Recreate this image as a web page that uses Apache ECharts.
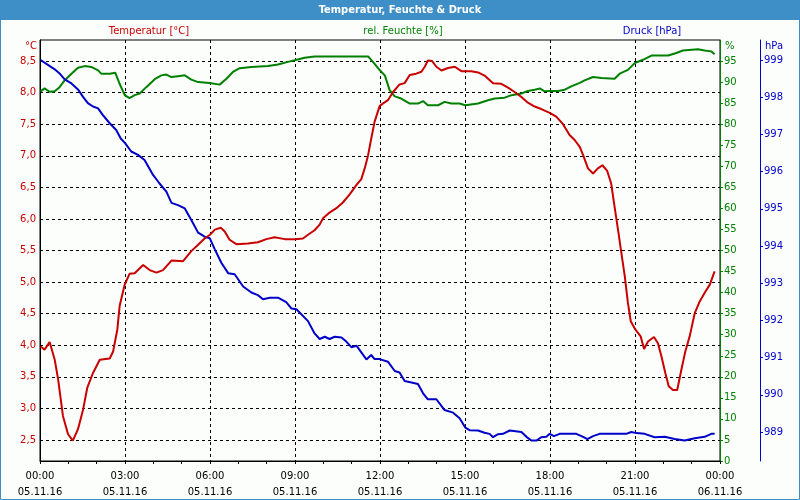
<!DOCTYPE html>
<html>
<head>
<meta charset="utf-8">
<script src="https://cdn.jsdelivr.net/npm/echarts@6/dist/echarts.min.js"></script>
<style>html,body{margin:0;padding:0;background:#fcfefc;}#c{width:800px;height:500px;}</style>
</head>
<body>
<div id="c"></div>
<script>
// ---- data (time in hours since 05.11.16 00:00) ----
const tempTimes = [0.02,0.16,0.34,0.52,0.64,0.81,0.99,1.16,1.34,1.52,1.67,1.87,2.11,2.46,2.58,2.73,2.81,2.99,3.16,3.34,3.64,3.87,4.11,4.34,4.64,5.05,5.34,5.58,5.81,6.0,6.17,6.38,6.52,6.69,6.93,7.34,7.69,7.99,8.28,8.64,8.99,9.28,9.46,9.69,9.87,9.99,10.22,10.46,10.69,10.93,11.17,11.34,11.46,11.58,11.69,11.81,11.99,12.11,12.28,12.46,12.69,12.87,13.05,13.28,13.46,13.58,13.69,13.84,13.99,14.17,14.40,14.64,14.87,15.22,15.46,15.69,15.99,16.28,16.52,16.75,16.99,17.22,17.46,17.69,17.99,18.22,18.46,18.69,18.87,19.05,19.17,19.34,19.52,19.69,19.85,20.02,20.16,20.28,20.40,20.52,20.64,20.75,20.85,21.01,21.20,21.32,21.46,21.67,21.81,21.93,22.07,22.19,22.34,22.49,22.64,22.78,22.93,23.11,23.28,23.46,23.64,23.81];
const tempValues = [3.98,3.93,4.05,3.77,3.46,2.88,2.59,2.49,2.67,2.98,3.33,3.56,3.77,3.79,3.90,4.25,4.62,4.96,5.13,5.14,5.27,5.19,5.15,5.19,5.34,5.33,5.49,5.59,5.69,5.75,5.83,5.86,5.80,5.67,5.60,5.61,5.63,5.68,5.71,5.68,5.68,5.69,5.75,5.82,5.91,6.01,6.10,6.17,6.26,6.39,6.54,6.63,6.80,7.01,7.27,7.54,7.79,7.83,7.88,8.01,8.13,8.15,8.28,8.30,8.33,8.41,8.51,8.50,8.41,8.35,8.39,8.41,8.34,8.34,8.32,8.27,8.15,8.14,8.08,8.01,7.93,7.84,7.78,7.74,7.68,7.62,7.50,7.33,7.25,7.14,7.01,6.80,6.72,6.80,6.85,6.76,6.56,6.19,5.83,5.46,5.09,4.67,4.38,4.25,4.14,3.94,4.06,4.13,4.03,3.83,3.56,3.35,3.29,3.29,3.62,3.91,4.14,4.51,4.69,4.83,4.96,5.17];

const humTimes = [0.02,0.16,0.34,0.52,0.69,0.87,1.11,1.34,1.58,1.81,2.05,2.16,2.46,2.66,2.81,2.99,3.16,3.34,3.52,3.75,4.05,4.28,4.46,4.64,4.87,5.11,5.34,5.58,5.99,6.34,6.58,6.81,7.05,7.46,8.05,8.40,8.75,8.99,9.34,9.69,10.64,11.58,11.75,11.97,12.17,12.34,12.52,12.75,13.05,13.34,13.52,13.69,14.05,14.28,14.52,14.81,15.01,15.46,15.81,16.05,16.40,16.64,16.99,17.22,17.46,17.64,17.81,17.99,18.28,18.52,18.75,19.05,19.22,19.52,19.81,20.28,20.46,20.75,20.99,21.28,21.58,22.17,22.46,22.69,23.22,23.46,23.69,23.81];
const humValues = [87.8,88.5,87.7,87.8,88.8,90.4,92.0,93.4,93.8,93.6,92.8,92.0,92.0,92.2,89.6,86.9,86.2,86.9,87.3,88.8,90.7,91.6,91.8,91.2,91.4,91.6,90.6,90.0,89.8,89.4,90.8,92.4,93.3,93.6,93.8,94.2,94.8,95.2,95.8,96.1,96.1,96.1,94.8,93.0,91.6,88.1,86.6,86.1,84.9,84.9,85.5,84.5,84.5,85.3,84.9,84.9,84.5,84.9,85.7,86.1,86.3,86.9,87.3,87.9,88.2,88.5,87.8,87.9,87.9,88.2,89.0,89.8,90.4,91.2,91.0,90.8,92.0,92.9,94.5,95.3,96.3,96.3,96.9,97.5,97.8,97.5,97.3,96.6];

const pressTimes = [0.02,0.28,0.52,0.69,0.87,1.11,1.34,1.52,1.69,1.87,2.05,2.22,2.46,2.69,2.85,3.01,3.22,3.46,3.69,3.99,4.22,4.46,4.64,4.87,5.11,5.34,5.58,5.81,5.99,6.17,6.40,6.64,6.87,7.17,7.46,7.69,7.87,8.11,8.40,8.69,8.87,9.05,9.46,9.69,9.87,10.05,10.22,10.40,10.64,10.81,10.99,11.17,11.34,11.52,11.69,11.81,11.99,12.28,12.52,12.69,12.87,13.11,13.34,13.52,13.69,13.99,14.28,14.58,14.81,15.01,15.16,15.46,15.69,15.87,15.99,16.17,16.34,16.58,16.99,17.17,17.34,17.52,17.69,17.87,17.99,18.14,18.34,18.93,19.17,19.32,19.52,19.75,20.69,20.87,21.05,21.34,21.69,22.05,22.40,22.75,23.11,23.46,23.69,23.81];
const pressValues = [999.0,998.87,998.75,998.64,998.48,998.37,998.21,998.01,997.84,997.75,997.70,997.52,997.30,997.12,996.89,996.76,996.54,996.45,996.31,995.91,995.68,995.46,995.16,995.10,995.01,994.70,994.36,994.25,994.21,993.91,993.55,993.27,993.24,992.91,992.75,992.68,992.57,992.61,992.61,992.49,992.32,992.30,991.98,991.65,991.50,991.56,991.50,991.56,991.54,991.43,991.28,991.32,991.14,990.95,991.07,990.96,990.96,990.89,990.64,990.60,990.37,990.33,990.29,990.04,989.88,989.88,989.59,989.52,989.37,989.12,989.05,989.04,988.98,988.95,988.86,988.94,988.95,989.04,989.00,988.87,988.77,988.77,988.86,988.87,988.95,988.89,988.95,988.95,988.87,988.81,988.89,988.95,988.95,989.00,988.97,988.95,988.86,988.87,988.81,988.77,988.83,988.87,988.95,988.95];

// ---- tick labels ----
const timeTickHours = [0,3,6,9,12,15,18,21,24];
const timeTickLabels = ['00:00\n05.11.16','03:00\n05.11.16','06:00\n05.11.16','09:00\n05.11.16','12:00\n05.11.16','15:00\n05.11.16','18:00\n05.11.16','21:00\n05.11.16','00:00\n06.11.16'];
const tempTicks = [2.5,3.0,3.5,4.0,4.5,5.0,5.5,6.0,6.5,7.0,7.5,8.0,8.5];
const humTicks = [0,5,10,15,20,25,30,35,40,45,50,55,60,65,70,75,80,85,90,95];
const pressTicks = [989,990,991,992,993,994,995,996,997,998,999];

const RED = '#c80000', GREEN = '#008000', BLUE = '#0000c8';
const FONT = 'DejaVu Sans';
const zip = (a, b) => a.map((t, i) => [t, b[i]]);

const chart = echarts.init(document.getElementById('c'), null, {renderer: 'canvas'});
chart.setOption({
  animation: false,
  backgroundColor: '#fcfefc',
  textStyle: {fontFamily: FONT},
  grid: {left: 40, right: 80, top: 40, bottom: 39, show: true, borderColor: '#000', borderWidth: 1, backgroundColor: 'transparent'},
  graphic: [
    {type: 'rect', shape: {x: 0, y: 0, width: 800, height: 20}, style: {fill: '#3e8fc8'}, z: 10},
    {type: 'rect', shape: {x: 0.5, y: 0.5, width: 799, height: 499}, style: {fill: null, stroke: '#3e8fc8', lineWidth: 1}, z: 10},
    {type: 'text', x: 400, y: 10, style: {text: 'Temperatur, Feuchte & Druck', fill: '#fff', font: 'bold 11px "DejaVu Sans Condensed", "DejaVu Sans"', align: 'center', verticalAlign: 'middle'}, z: 11},
    {type: 'text', x: 149, y: 31, style: {text: 'Temperatur [°C]', fill: RED, font: '10px "DejaVu Sans"', align: 'center', verticalAlign: 'middle'}, z: 11},
    {type: 'text', x: 403, y: 31, style: {text: 'rel. Feuchte [%]', fill: GREEN, font: '10px "DejaVu Sans"', align: 'center', verticalAlign: 'middle'}, z: 11},
    {type: 'text', x: 652, y: 31, style: {text: 'Druck [hPa]', fill: BLUE, font: '10px "DejaVu Sans"', align: 'center', verticalAlign: 'middle'}, z: 11},
    {type: 'text', x: 37, y: 46, style: {text: '°C', fill: RED, font: '10px "DejaVu Sans"', align: 'right', verticalAlign: 'middle'}, z: 11},
    {type: 'text', x: 725, y: 46, style: {text: '%', fill: GREEN, font: '10px "DejaVu Sans"', align: 'left', verticalAlign: 'middle'}, z: 11},
    {type: 'text', x: 765, y: 46, style: {text: 'hPa', fill: BLUE, font: '10px "DejaVu Sans"', align: 'left', verticalAlign: 'middle'}, z: 11}
  ],
  xAxis: {
    type: 'value', min: 0, max: 24, interval: 3,
    axisLine: {lineStyle: {color: '#000', width: 1}},
    axisTick: {show: true, length: 3, lineStyle: {color: '#000'}},
    minorTick: {show: true, splitNumber: 3, length: 3, lineStyle: {color: '#000'}},
    splitLine: {show: true, lineStyle: {color: '#000', type: [3, 3], width: 1}},
    axisLabel: {
      color: '#000', fontSize: 10, fontFamily: FONT, lineHeight: 16, margin: 7,
      formatter: v => { const i = timeTickHours.indexOf(Math.round(v)); return i >= 0 ? timeTickLabels[i] : ''; }
    }
  },
  yAxis: [
    {
      type: 'value', position: 'left', min: 2.5 - 1/3, max: 8.5 + 1/3,
      axisLine: {show: true, lineStyle: {color: '#000', width: 1}},
      axisTick: {show: false, customValues: tempTicks},
      axisLabel: {color: RED, fontSize: 10, fontFamily: FONT, margin: 4, customValues: tempTicks,
        formatter: v => v.toFixed(1).replace('.', ',')},
      splitLine: {show: true, lineStyle: {color: '#000', type: [3, 3], width: 1}}
    },
    {
      type: 'value', position: 'right', min: 0, max: 100,
      axisLine: {show: true, lineStyle: {color: GREEN, width: 1}},
      axisTick: {show: true, length: 3, customValues: humTicks, lineStyle: {color: GREEN}},
      axisLabel: {color: GREEN, fontSize: 10, fontFamily: FONT, margin: 4, customValues: humTicks},
      splitLine: {show: false}
    },
    {
      type: 'value', position: 'right', offset: 40, min: 989 - 29/37.2, max: 999 + 20/37.2,
      axisLine: {show: true, lineStyle: {color: BLUE, width: 1}},
      axisTick: {show: true, length: 3, customValues: pressTicks, lineStyle: {color: BLUE}},
      axisLabel: {color: BLUE, fontSize: 10, fontFamily: FONT, margin: 4, customValues: pressTicks},
      splitLine: {show: false}
    }
  ],
  series: [
    {type: 'line', name: 'rel. Feuchte [%]', yAxisIndex: 1, data: zip(humTimes, humValues), showSymbol: false, lineStyle: {color: GREEN, width: 2}, itemStyle: {color: GREEN}, z: 3},
    {type: 'line', name: 'Druck [hPa]', yAxisIndex: 2, data: zip(pressTimes, pressValues), showSymbol: false, lineStyle: {color: BLUE, width: 2}, itemStyle: {color: BLUE}, z: 4},
    {type: 'line', name: 'Temperatur [°C]', yAxisIndex: 0, data: zip(tempTimes, tempValues), showSymbol: false, lineStyle: {color: RED, width: 2}, itemStyle: {color: RED}, z: 5}
  ]
});
</script>
</body>
</html>
